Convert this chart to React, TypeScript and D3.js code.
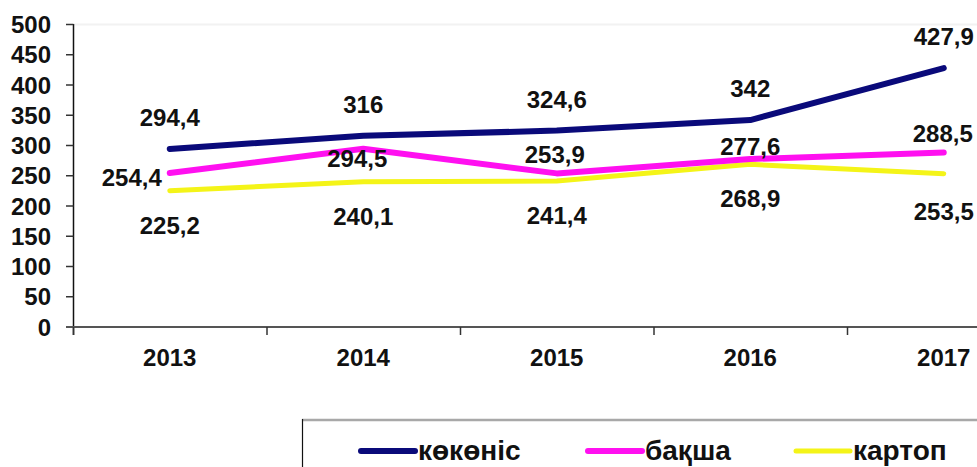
import React from "react";
import * as d3 from "d3";

const years = ["2013", "2014", "2015", "2016", "2017"];
const vegetables = [294.4, 316, 324.6, 342, 427.9];
const melons = [254.4, 294.5, 253.9, 277.6, 288.5];
const potatoes = [225.2, 240.1, 241.4, 268.9, 253.5];
const yTicks = [0, 50, 100, 150, 200, 250, 300, 350, 400, 450, 500];
const seriesNames = ["көкөніс", "бақша", "картоп"];

const W = 977;
const H = 467;
const FONT = "'Liberation Sans', Arial, sans-serif";

type LabelPos = { dx: number; dy: number; anchor: string };

export default function App() {
  const x = d3.scaleBand<string>().domain(years).range([73, 1040.5]);
  const y = d3.scaleLinear().domain([0, 500]).range([327, 24.5]);
  const cx = (i: number) => (x(years[i]) as number) + x.bandwidth() / 2;

  const line = d3
    .line<number>()
    .x((_, i) => cx(i))
    .y((d) => y(d));

  const series = [
    {
      name: seriesNames[0],
      values: vegetables,
      color: "#0a0a7a",
      width: 6,
      labels: vegetables.map(() => ({ dx: 0, dy: -23, anchor: "middle" })) as LabelPos[],
    },
    {
      name: seriesNames[1],
      values: melons,
      color: "#ff10f0",
      width: 6,
      labels: [
        { dx: -8, dy: 13, anchor: "end" },
        { dx: -6, dy: 18, anchor: "middle" },
        { dx: -2, dy: -10, anchor: "middle" },
        { dx: 0, dy: -4, anchor: "middle" },
        { dx: -1, dy: -10, anchor: "middle" },
      ] as LabelPos[],
    },
    {
      name: seriesNames[2],
      values: potatoes,
      color: "#f4f418",
      width: 5,
      labels: potatoes.map((v, i) => ({ dx: 0, dy: i === 4 ? 46 : 43, anchor: "middle" })) as LabelPos[],
    },
  ];

  const fmt = (v: number) => String(v).replace(".", ",");

  const legendStarts = [358, 585, 793];

  return (
    <svg
      width={W}
      height={H}
      style={{ position: "absolute", left: 0, top: 0, background: "#fff" }}
      fontFamily={FONT}
    >
      <rect x={0} y={0} width={W} height={H} fill="#fff" />
      {/* plot top border (faint) */}
      <line x1={74} x2={W} y1={24.5} y2={24.5} stroke="#f2f2f2" strokeWidth={2} />
      {/* y axis */}
      <line x1={73.5} x2={73.5} y1={24} y2={335} stroke="#111" strokeWidth={1.5} />
      {yTicks.map((t) => (
        <g key={t}>
          <line x1={66} x2={73.5} y1={y(t)} y2={y(t)} stroke="#333" strokeWidth={1.5} />
          <text
            x={51}
            y={y(t) + 8.5}
            textAnchor="end"
            fontSize={24}
            fontWeight="bold"
            fill="#111"
          >
            {t}
          </text>
        </g>
      ))}
      {/* x axis */}
      <line x1={66} x2={W} y1={y(0)} y2={y(0)} stroke="#555" strokeWidth={2} />
      {years.map((yr, i) => (
        <g key={yr}>
          <line
            x1={(x(yr) as number) + 0.5}
            x2={(x(yr) as number) + 0.5}
            y1={y(0)}
            y2={335}
            stroke="#333"
            strokeWidth={1.5}
          />
          <text x={cx(i)} y={366} textAnchor="middle" fontSize={24} fontWeight="bold" fill="#111">
            {yr}
          </text>
        </g>
      ))}
      {/* lines */}
      {series
        .slice()
        .reverse()
        .map((s) => (
          <path
            key={s.name}
            d={line(s.values) || ""}
            fill="none"
            stroke={s.color}
            strokeWidth={s.width}
            strokeLinecap="round"
            strokeLinejoin="round"
          />
        ))}
      {/* data labels */}
      {series.map((s) =>
        s.values.map((v, i) => (
          <text
            key={s.name + i}
            x={cx(i) + s.labels[i].dx}
            y={y(v) + s.labels[i].dy}
            textAnchor={s.labels[i].anchor as any}
            fontSize={24}
            fontWeight="bold"
            fill="#111"
          >
            {fmt(v)}
          </text>
        ))
      )}
      {/* legend */}
      <line x1={302} x2={W} y1={420} y2={420} stroke="#a8a8a8" strokeWidth={2.5} />
      <line x1={302.5} x2={302.5} y1={419} y2={H} stroke="#111" strokeWidth={1.2} />
      {series.map((s, i) => (
        <g key={"lg" + s.name}>
          <line
            x1={legendStarts[i] + 3}
            x2={legendStarts[i] + 57}
            y1={451}
            y2={451}
            stroke={s.color}
            strokeWidth={s.width}
            strokeLinecap="round"
          />
          <text x={legendStarts[i] + 60} y={460} fontSize={28} fontWeight="bold" fill="#111">
            {s.name}
          </text>
        </g>
      ))}
    </svg>
  );
}
